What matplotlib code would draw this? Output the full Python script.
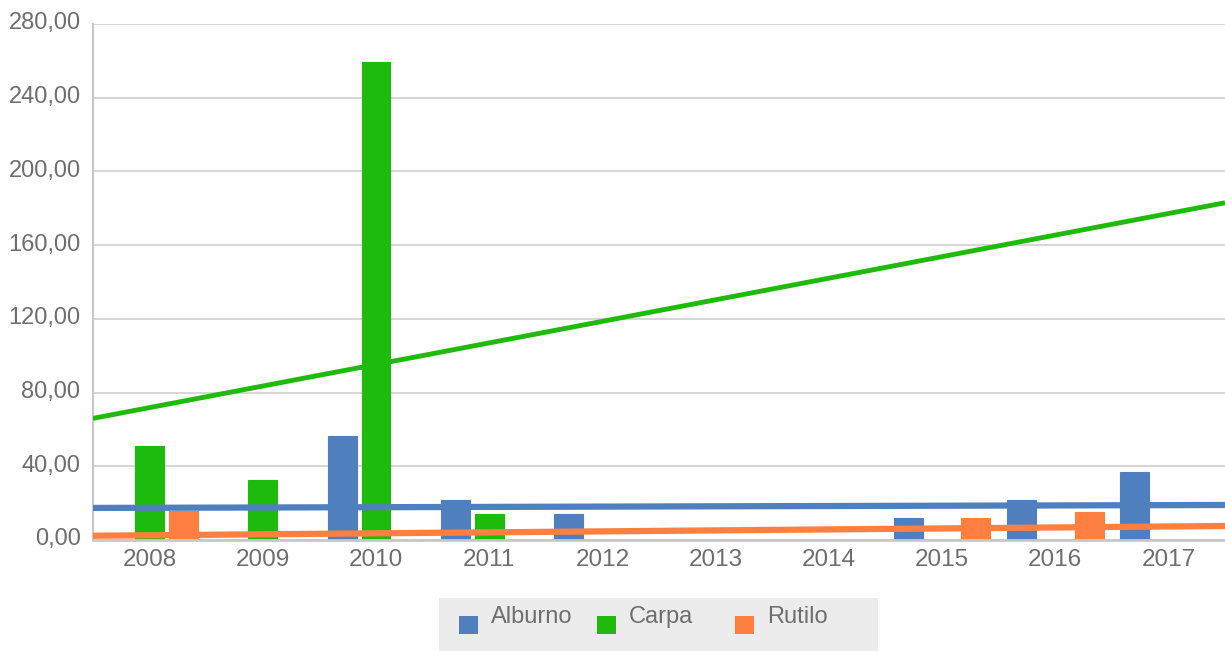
import numpy as np
import matplotlib.pyplot as plt
import matplotlib.transforms as mtransforms
from matplotlib.patches import Rectangle

# data
years = ['2008', '2009', '2010', '2011', '2012', '2013', '2014', '2015', '2016', '2017']
species = ['Alburno', 'Carpa', 'Rutilo']
alburno = [0, 0, 56.4, 21.7, 14.1, 0, 0, 11.9, 21.7, 36.9]
carpa = [51.0, 32.5, 259.4, 14.1, 0, 0, 0, 0, 0, 0]
rutilo = [16.0, 0, 0, 0, 0, 0, 0, 12.0, 15.2, 0]
# trend lines: value at the left and right edge of the plot
trend_alburno = [17.4, 19.0]
trend_carpa = [66.0, 183.0]
trend_rutilo = [2.3, 7.6]

c_blue = '#4f7fbe'
c_green = '#1fbb0c'
c_orange = '#ff7f40'
txt = '#6e6e6e'
W, H = 1225, 651

plt.rcParams['font.family'] = ['Liberation Sans', 'DejaVu Sans']

fig = plt.figure(figsize=(W / 100, H / 100), dpi=100)
ax = fig.add_axes([93/W, 1-540/H, 1-93/W, (540-24)/H])

x = np.arange(len(years))
w = 0.256
step = 0.30
for vals, col, off in [(alburno, c_blue, -step), (carpa, c_green, 0), (rutilo, c_orange, step)]:
    ax.bar(x + off, vals, width=w, color=col, edgecolor=col, linewidth=0.8, zorder=2)

edges = [-0.5, len(years) - 0.5]
ax.plot(edges, trend_carpa, color=c_green, lw=3.5, zorder=3, solid_capstyle='butt')
ax.plot(edges, trend_alburno, color=c_blue, lw=4.5, zorder=3, solid_capstyle='butt')
ax.plot(edges, trend_rutilo, color=c_orange, lw=4.5, zorder=3, solid_capstyle='butt')

ax.set_xlim(edges)
ax.set_ylim(0, 280)
ax.set_yticks(np.arange(0, 281, 40))
ax.set_yticklabels([('%.2f' % v).replace('.', ',') for v in np.arange(0, 281, 40)], va='center_baseline')
ax.set_xticks(x)
ax.set_xticklabels(years)
ax.tick_params(length=0, labelcolor=txt)
ax.tick_params(axis='x', pad=6.5, labelsize=17.5)
ax.tick_params(axis='y', pad=9, labelsize=17)
# y labels sit a little above their grid lines in the original
shift = mtransforms.ScaledTranslation(0, 3/100, fig.dpi_scale_trans)
for lab in ax.get_yticklabels():
    lab.set_transform(lab.get_transform() + shift)
ax.grid(axis='y', color='#d0d0d0', lw=1.2, zorder=0)
ax.set_axisbelow(True)
for s in ['top', 'right']:
    ax.spines[s].set_visible(False)
ax.spines['left'].set_color('#c8c8c8')
ax.spines['left'].set_linewidth(1.5)
ax.spines['bottom'].set_color('#c8c8c8')
ax.spines['bottom'].set_linewidth(2)
ax.spines['bottom'].set_zorder(4)

# legend box drawn by hand (fixed-width entries like the original)
fig.patches.append(Rectangle((439/W, 0), (878-439)/W, 53/H, transform=fig.transFigure,
                             facecolor='#ececec', edgecolor='none'))
for i, (name, col) in enumerate(zip(species, [c_blue, c_green, c_orange])):
    x0 = 459 + 138 * i
    fig.patches.append(Rectangle((x0/W, 1-634/H), 19/W, 18/H, transform=fig.transFigure,
                                 facecolor=col, edgecolor='none'))
    fig.text((x0 + 32)/W, 1-617/H, name, fontsize=17, color=txt, va='center', ha='left')

fig.savefig('out.png', dpi=100)
